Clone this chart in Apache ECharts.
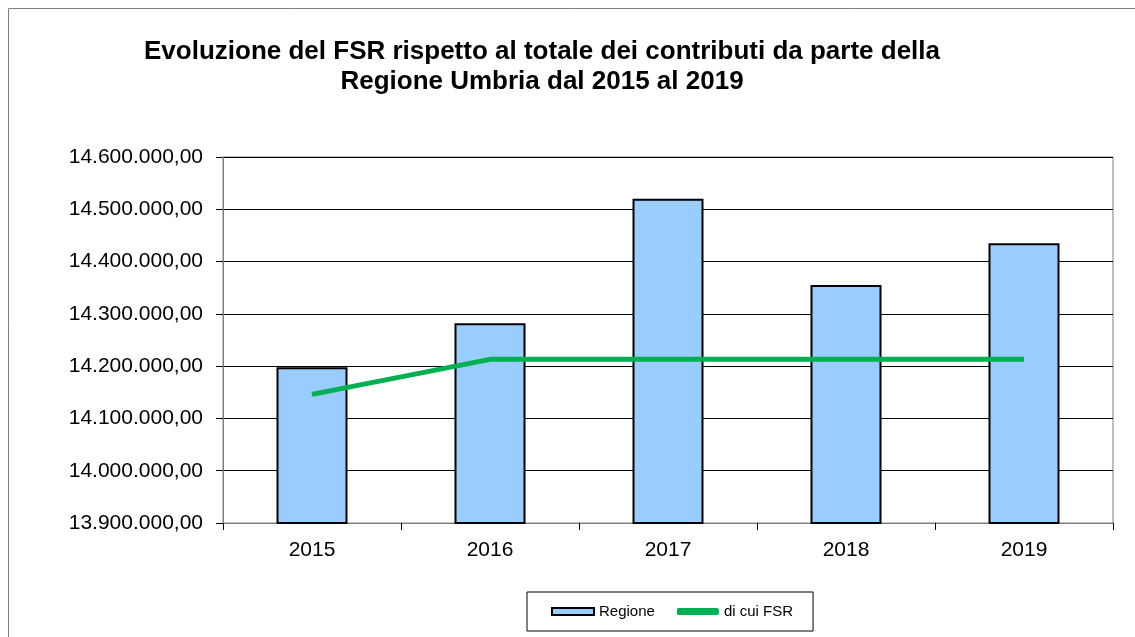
<!DOCTYPE html>
<html><head><meta charset="utf-8">
<script src="https://cdn.jsdelivr.net/npm/echarts@6/dist/echarts.min.js"></script>
<style>html,body{margin:0;padding:0;background:#fff}#c{width:1135px;height:637px}</style>
</head><body><div id="c"></div>
<script>
const categories = ['2015','2016','2017','2018','2019'];
const regione = [14198000, 14282000, 14520000, 14355000, 14435000];
const fsr = [14146000, 14213000, 14213000, 14213000, 14213000];
const yMin = 13900000, yMax = 14600000, yStep = 100000;

function fmt(v){
  const s = Math.round(v).toString().replace(/\B(?=(\d{3})+(?!\d))/g,'.');
  return s + ',00';
}
const FONT = 'Liberation Sans, Arial, sans-serif';
const chart = echarts.init(document.getElementById('c'), null, {renderer:'canvas'});
chart.setOption({
  animation:false,
  backgroundColor:'#fff',
  textStyle:{fontFamily:FONT},
  graphic:[{type:'rect', shape:{x:8.5,y:8.5,width:1140,height:640}, style:{fill:null, stroke:'#808080', lineWidth:1}, silent:true}],
  title:{
    text:'Evoluzione del FSR rispetto al totale dei contributi da parte della\nRegione Umbria dal 2015 al 2019',
    left:537, top:32, textAlign:'center',
    textStyle:{fontFamily:FONT, fontSize:26, fontWeight:'bold', color:'#000', lineHeight:30}
  },
  grid:{left:223, right:22, top:157, bottom:114, show:true, borderColor:'#808080', borderWidth:1},
  legend:{
    left:527, top:592,
    orient:'horizontal',
    borderColor:'#000', borderWidth:1, padding:[12,20,12,24],
    itemGap:22, itemWidth:42, itemHeight:7,
    textStyle:{fontSize:15, color:'#000', fontFamily:FONT},
    data:[{name:'Regione', icon:'rect'},{name:'di cui FSR', icon:'roundRect'}]
  },
  xAxis:{
    type:'category', data:categories,
    axisLine:{lineStyle:{color:'#808080'}},
    axisTick:{show:true, length:7, lineStyle:{color:'#000'}},
    axisLabel:{fontSize:21, color:'#000', margin:17},
    splitLine:{show:false}
  },
  yAxis:{
    type:'value', min:yMin, max:yMax, interval:yStep,
    axisLine:{show:true, lineStyle:{color:'#808080'}},
    axisTick:{show:true, length:7, lineStyle:{color:'#000'}},
    axisLabel:{fontSize:21, color:'#000', margin:20, formatter:fmt},
    splitLine:{show:true, lineStyle:{color:'#000', width:1}}
  },
  series:[
    {name:'Regione', type:'bar', data:regione, barWidth:71,
     itemStyle:{color:'#99CCFF', borderColor:'#000', borderWidth:2}},
    {name:'di cui FSR', type:'line', data:fsr, symbol:'none',
     lineStyle:{color:'#00B050', width:5}, itemStyle:{color:'#00B050'}}
  ]
});
</script></body></html>
